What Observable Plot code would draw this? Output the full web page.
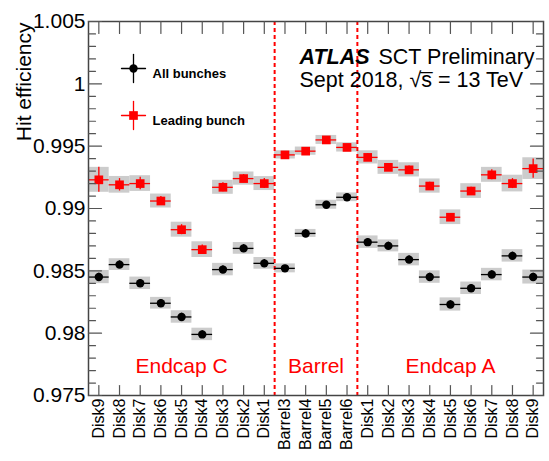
<!DOCTYPE html>
<html><head><meta charset="utf-8">
<script src="https://cdn.jsdelivr.net/npm/d3@7"></script>
<script src="https://cdn.jsdelivr.net/npm/@observablehq/plot@0.6"></script>
<style>
html,body{margin:0;padding:0;background:#fff;}
#chart svg{display:block;}
</style></head><body><div id="chart"></div>
<script>
// ---- data ----
const binLabels = ["Disk9","Disk8","Disk7","Disk6","Disk5","Disk4","Disk3","Disk2","Disk1",
  "Barrel3","Barrel4","Barrel5","Barrel6",
  "Disk1","Disk2","Disk3","Disk4","Disk5","Disk6","Disk7","Disk8","Disk9"];
const groupNames = ["Endcap C","Barrel","Endcap A"];
const groupSizes = [9, 4, 9];

const allEff  = [0.9845,0.9855,0.9840,0.9824,0.9813,0.9799,0.9851,0.9868,0.9856,
                 0.9852,0.9880,0.9903,0.9909,
                 0.9873,0.9870,0.9859,0.9845,0.9823,0.9836,0.9847,0.9862,0.9845];
const allStat = [0.0003,0.0003,0.0003,0.0003,0.0003,0.0003,0.0003,0.0003,0.0003,
                 0.0002,0.0003,0.0002,0.0002,
                 0.0003,0.0003,0.0003,0.0003,0.0003,0.0003,0.0003,0.0003,0.0003];
const allSyst = [0.00053,0.00047,0.0005,0.00047,0.0005,0.0005,0.0005,0.00047,0.00047,
                 0.00036,0.00032,0.00036,0.00035,
                 0.0005,0.00048,0.0005,0.0005,0.00053,0.0005,0.0005,0.0005,0.00056];

const leadEff  = [0.9923,0.9919,0.9920,0.9906,0.9883,0.9867,0.9917,0.9924,0.9920,
                  0.9943,0.9946,0.9955,0.9949,
                  0.9941,0.9933,0.9931,0.9918,0.9893,0.9914,0.9927,0.9920,0.9932];
const leadStat = [0.0010,0.0005,0.0005,0.00036,0.0004,0.00038,0.00036,0.00032,0.0004,
                  0.0002,0.0002,0.0002,0.0002,
                  0.0003,0.0003,0.0003,0.0003,0.0003,0.0003,0.0004,0.0004,0.00078];
const leadSyst = [0.0010,0.00067,0.00063,0.00056,0.0006,0.00063,0.00056,0.00053,0.00056,
                  0.00033,0.00033,0.00036,0.00037,
                  0.00053,0.00056,0.00057,0.00057,0.00059,0.00059,0.0006,0.00067,0.00087];

const yMajorTicks = [0.975,0.98,0.985,0.99,0.995,1,1.005];
const yTickLabels = ["0.975","0.98","0.985","0.99","0.995","1","1.005"];
const yMinorTicks = d3.range(975,1006).filter(k => k % 5 !== 0).map(k => k/1000);

const legendNames = ["All bunches","Leading bunch"];

// ---- build ----
const nBins = binLabels.length;
const rows = (eff, stat, syst) => eff.map((v,i) => ({i, v, stat: stat[i], syst: syst[i]}));
const allRows = rows(allEff, allStat, allSyst);
const leadRows = rows(leadEff, leadStat, leadSyst);
const binCenters = d3.range(nBins).map(i => i + 0.5);
let acc = 0;
const groups = groupNames.map((name, k) => { const g = {name, start: acc, end: acc + groupSizes[k]}; acc += groupSizes[k]; return g; });
const boundaries = groups.slice(0, -1).map(g => g.end);

const tickShape = {draw(ctx, l){ ctx.moveTo(0,0); ctx.lineTo(0,-l); }};
const axisCol = "#555";
const FONT = "'Liberation Sans', Arial, Helvetica, sans-serif";

const errMarks = (data, color) => [
  Plot.ruleY(data, {x1: d => d.i, x2: d => d.i + 1, y: d => d.v, stroke: color, strokeWidth: 1.3}),
  Plot.ruleX(data, {x: d => d.i + 0.5, y1: d => d.v - d.stat, y2: d => d.v + d.stat, stroke: color, strokeWidth: 1.3})
];

const legendEntry = (name, color, symbol, r, dy) => [
  Plot.vector([name], {frameAnchor: "top-left", dx: 45, dy, rotate: 0, length: 28, anchor: "middle", shape: tickShape, stroke: color, strokeWidth: 1.3}),
  Plot.vector([name], {frameAnchor: "top-left", dx: 45, dy, rotate: 90, length: 24, anchor: "middle", shape: tickShape, stroke: color, strokeWidth: 1.3}),
  Plot.dot([name], {frameAnchor: "top-left", dx: 45, dy, r, fill: color, symbol}),
  Plot.text([name], {text: d => d, frameAnchor: "top-left", dx: 64, dy, textAnchor: "start", fontSize: 13, fontWeight: "bold", fill: "black"})
];

const chart = Plot.plot({
  width: 549, height: 461,
  marginLeft: 88, marginRight: 6, marginTop: 21, marginBottom: 66,
  x: {domain: [0, nBins], axis: null, label: null},
  y: {domain: [0.975, 1.005], axis: null, label: null},
  style: {fontFamily: FONT, color: "black", background: "white"},
  marks: [
    // systematic boxes
    Plot.rect(leadRows, {x1: d => d.i, x2: d => d.i + 1, y1: d => d.v - d.syst, y2: d => d.v + d.syst, fill: "#cccccc"}),
    Plot.rect(allRows, {x1: d => d.i, x2: d => d.i + 1, y1: d => d.v - d.syst, y2: d => d.v + d.syst, fill: "#cccccc"}),
    // region separators
    Plot.ruleX(boundaries, {x: d => d, stroke: "red", strokeWidth: 2, strokeDasharray: "4,3"}),
    ...errMarks(allRows, "black"),
    ...errMarks(leadRows, "red"),
    Plot.dot(allRows, {x: d => d.i + 0.5, y: d => d.v, r: 4.2, fill: "black", symbol: "circle"}),
    Plot.dot(leadRows, {x: d => d.i + 0.5, y: d => d.v, r: 4.9, fill: "red", symbol: "square"}),
    // frame & ticks
    Plot.frame({stroke: "#444", strokeWidth: 1.5}),
    Plot.vector(yMajorTicks, {y: d => d, frameAnchor: "left", rotate: 90, length: 13, anchor: "start", shape: tickShape, stroke: axisCol, strokeWidth: 1.2}),
    Plot.vector(yMinorTicks, {y: d => d, frameAnchor: "left", rotate: 90, length: 7, anchor: "start", shape: tickShape, stroke: axisCol, strokeWidth: 1.2}),
    Plot.vector(yMajorTicks, {y: d => d, frameAnchor: "right", rotate: -90, length: 13, anchor: "start", shape: tickShape, stroke: axisCol, strokeWidth: 1.2}),
    Plot.vector(yMinorTicks, {y: d => d, frameAnchor: "right", rotate: -90, length: 7, anchor: "start", shape: tickShape, stroke: axisCol, strokeWidth: 1.2}),
    Plot.vector(binCenters, {x: d => d, frameAnchor: "top", rotate: 180, length: 12, anchor: "start", shape: tickShape, stroke: axisCol, strokeWidth: 1.2}),
    Plot.vector(binCenters, {x: d => d, frameAnchor: "bottom", rotate: 0, length: 10, anchor: "start", shape: tickShape, stroke: axisCol, strokeWidth: 1.2}),
    // axes labels
    Plot.axisX(binCenters, {anchor: "bottom", tickSize: 0, tickPadding: 3, tickRotate: -90, fontSize: 16, tickFormat: d => binLabels[Math.floor(d)], fill: "black"}),
    Plot.axisY(yMajorTicks, {anchor: "left", tickSize: 0, tickPadding: 3, fontSize: 21, tickFormat: d => yTickLabels[yMajorTicks.indexOf(d)], fill: "black"}),
    Plot.text(["Hit efficiency"], {text: d => d, frameAnchor: "top-left", rotate: -90, textAnchor: "end", lineAnchor: "bottom", dx: -58, dy: 1, fontSize: 21, fill: "black"}),
    // region names
    Plot.text(groups, {x: d => (d.start + d.end) / 2, text: d => d.name, frameAnchor: "bottom", dy: -23, lineAnchor: "bottom", fontSize: 21, fill: "red"}),
    // ATLAS label
    Plot.text(["ATLAS"], {text: d => d, frameAnchor: "top-left", dx: 211, dy: 42, textAnchor: "start", lineAnchor: "bottom", fontSize: 21.5, fontWeight: "bold", fontStyle: "italic", fill: "black"}),
    Plot.text(["SCT Preliminary"], {text: d => d, frameAnchor: "top-left", dx: 290, dy: 42, textAnchor: "start", lineAnchor: "bottom", fontSize: 21.5, fill: "black"}),
    Plot.text(["Sept 2018, \u221As\u0305 = 13 TeV"], {text: d => d, frameAnchor: "top-left", dx: 211, dy: 65, textAnchor: "start", lineAnchor: "bottom", fontSize: 21.5, fill: "black"}),
    // legend
    ...legendEntry(legendNames[0], "black", "circle", 4.2, 47),
    ...legendEntry(legendNames[1], "red", "square", 4.9, 94)
  ]
});
document.getElementById("chart").appendChild(chart);
</script>
</body></html>
